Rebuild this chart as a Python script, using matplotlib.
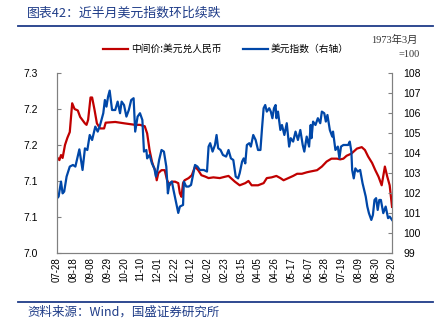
import pandas as pd
import matplotlib
matplotlib.use("Agg")
import matplotlib.pyplot as plt
import matplotlib.dates as mdates
from matplotlib.ticker import FuncFormatter, MultipleLocator

plt.rcParams['font.family'] = ['Liberation Sans', 'Noto Sans CJK SC']

# ========== DATA ==========
start = pd.Timestamp("2023-07-28")

# USD/CNY central parity, left axis (days since 2023-07-28)
cny_days = [0, 3, 5, 7, 10, 13, 16, 19, 22, 26, 29, 35, 37, 39, 42, 44, 47, 50, 54, 59,
            61, 73, 85, 98, 104, 110, 113, 116, 119, 121, 123, 125, 127, 131, 135, 138, 141,
            144, 148, 152, 154, 156, 158, 160, 165, 169, 173, 177, 181, 186, 190, 196, 204,
            211, 215, 217, 223, 229, 236, 240, 244, 252, 259, 263, 269, 275, 280, 284, 290,
            296, 301, 307, 313, 317, 326, 332, 338, 344, 351, 355, 359, 363, 369, 376, 382,
            386, 390, 395, 399, 403, 407, 411, 414, 417, 420]
cny_vals = [7.133, 7.129, 7.136, 7.132, 7.150, 7.160, 7.168, 7.208, 7.200, 7.198, 7.189,
            7.180, 7.178, 7.185, 7.216, 7.216, 7.199, 7.180, 7.173, 7.173, 7.181, 7.182,
            7.180, 7.178, 7.178, 7.176, 7.166, 7.143, 7.127, 7.120, 7.115, 7.101, 7.111,
            7.115, 7.115, 7.101, 7.094, 7.099, 7.099, 7.097, 7.083, 7.078, 7.097, 7.101,
            7.104, 7.108, 7.120, 7.115, 7.108, 7.106, 7.104, 7.105, 7.104, 7.106, 7.107,
            7.105, 7.099, 7.094, 7.097, 7.100, 7.094, 7.094, 7.097, 7.104, 7.105, 7.107,
            7.104, 7.101, 7.104, 7.107, 7.110, 7.110, 7.112, 7.113, 7.115, 7.120, 7.127,
            7.131, 7.131, 7.130, 7.131, 7.135, 7.138, 7.145, 7.147, 7.143, 7.134, 7.125,
            7.115, 7.106, 7.094, 7.120, 7.106, 7.094, 7.064]

# US dollar index, right axis
dxy_days = [0, 2, 5, 7, 9, 12, 16, 20, 23, 28, 30, 32, 35, 38, 41, 44, 48, 51, 54, 58,
            60, 62, 64, 66, 69, 73, 76, 79, 81, 84, 87, 90, 93, 96, 98, 101, 104, 107, 109,
            112, 113, 116, 119, 122, 124, 126, 128, 131, 134, 137, 139, 141, 144, 146, 149,
            152, 154, 158, 159, 162, 165, 168, 171, 173, 176, 179, 184, 188, 190, 192, 195,
            198, 200, 202, 205, 208, 212, 215, 218, 221, 224, 227, 229, 232, 234, 236, 238,
            241, 243, 246, 249, 252, 255, 257, 259, 261, 263, 266, 268, 270, 272, 274, 275,
            277, 280, 282, 285, 288, 291, 293, 296, 299, 302, 305, 308, 310, 313, 316, 318,
            319, 321, 324, 327, 330, 332, 335, 337, 339, 342, 345, 346, 349, 352, 354, 356,
            359, 362, 365, 367, 369, 370, 372, 374, 377, 380, 383, 385, 387, 389, 391, 394,
            396, 398, 400, 402, 404, 406, 409, 412, 415, 417, 420]
dxy_vals = [101.73, 101.82, 102.57, 101.98, 102.07, 102.82, 103.32, 103.40, 103.32, 104.18,
            103.65, 103.15, 104.23, 104.15, 104.90, 104.65, 105.32, 105.07, 105.40, 105.99,
            106.65, 106.32, 106.82, 107.12, 106.15, 106.15, 106.57, 105.99, 106.57, 106.40,
            105.82, 106.15, 106.65, 106.74, 105.07, 105.82, 105.99, 105.65, 104.07, 104.15,
            103.73, 103.90, 103.48, 103.23, 102.82, 103.15, 103.65, 104.15, 104.07, 103.32,
            101.98, 102.48, 102.57, 102.15, 101.57, 101.00, 101.32, 101.40, 102.57, 102.32,
            102.32, 102.40, 102.99, 103.40, 103.32, 103.15, 103.15, 103.07, 104.32, 104.49,
            104.07, 104.40, 104.90, 104.24, 104.15, 103.90, 103.82, 104.15, 103.73, 103.65,
            102.82, 102.73, 102.99, 103.57, 103.73, 103.48, 104.40, 104.49, 104.32, 104.90,
            104.65, 104.15, 104.15, 105.24, 106.24, 106.40, 106.07, 106.24, 106.07, 105.74,
            106.24, 106.40, 105.74, 106.07, 105.15, 105.40, 104.90, 105.49, 104.32, 104.74,
            104.57, 105.07, 104.65, 105.15, 104.40, 104.07, 104.82, 104.32, 105.40, 104.74,
            105.57, 105.40, 105.74, 105.49, 106.07, 105.99, 105.57, 105.90, 105.15, 104.82,
            105.07, 104.15, 104.32, 103.73, 104.32, 104.40, 104.40, 104.40, 104.57, 104.07,
            103.15, 102.73, 103.23, 103.07, 103.15, 102.49, 102.15, 101.82, 101.32, 100.99,
            100.65, 100.90, 101.65, 101.74, 101.15, 101.65, 101.65, 100.99, 101.32, 100.74,
            100.82, 100.65]

cny_dates = start + pd.to_timedelta(cny_days, unit="D")
dxy_dates = start + pd.to_timedelta(dxy_days, unit="D")
tick_dates = pd.date_range(start, periods=21, freq="21D")

RED = "#C00000"
BLUE = "#0047A8"
NAVY = "#1F3C88"
GREY = "#808080"

# ========== PLOT ==========
fig = plt.figure(figsize=(4.42, 3.35), dpi=100)
ax = fig.add_axes([0.129, 0.245, 0.758, 0.537])
ax2 = ax.twinx()

l1, = ax.plot(cny_dates, cny_vals, color=RED, lw=1.6, label="中间价:美元兑人民币")
l2, = ax2.plot(dxy_dates, dxy_vals, color=BLUE, lw=1.6, label="美元指数（右轴）")

ax.set_xlim(tick_dates[0], tick_dates[-1])
ax.set_ylim(7.0, 7.25)
ax.yaxis.set_major_locator(MultipleLocator(0.05))
ax.yaxis.set_major_formatter(FuncFormatter(lambda v, p: f"{round(v + 1e-9, 1):.1f}"))
ax2.set_ylim(99, 108)
ax2.yaxis.set_major_locator(MultipleLocator(1))

ax.set_xticks(tick_dates)
ax.xaxis.set_major_formatter(mdates.DateFormatter("%m-%d"))
ax.tick_params(axis="x", length=0, labelsize=7, rotation=90, pad=3)
ax.tick_params(axis="y", direction="in", length=3, color=GREY, labelsize=7.5, pad=14)
ax2.tick_params(axis="y", direction="in", length=3, color=GREY, labelsize=7.5, pad=8)

for a in (ax, ax2):
    a.spines["top"].set_visible(False)
    for s in ("left", "right", "bottom"):
        a.spines[s].set_color(GREY)
        a.spines[s].set_linewidth(0.8)

fig.legend(handles=[l1, l2], loc="center", bbox_to_anchor=(0.511, 0.854), ncol=2,
           frameon=False, fontsize=7, handlelength=2.6, handletextpad=0.3,
           columnspacing=2.2, prop={"family": ["Noto Sans CJK SC"], "size": 7})

fig.text(0.893, 0.880, "1973年3月", ha="center", va="center", fontsize=7.5,
         family=["Liberation Serif", "Noto Sans CJK SC"], color="#333333")
fig.text(0.950, 0.838, "=100", ha="right", va="center", fontsize=7.5,
         family=["Liberation Serif", "Noto Sans CJK SC"], color="#333333")

# header / footer
fig.text(0.062, 0.961, "图表42：近半月美元指数环比续跌", ha="left", va="center",
         fontsize=9.3, color=NAVY, family=["Noto Sans CJK SC"])
fig.add_artist(plt.Line2D([0.041, 0.98], [0.922, 0.922], color=NAVY, lw=1.3))
fig.add_artist(plt.Line2D([0.041, 0.98], [0.099, 0.099], color=NAVY, lw=1.3))
fig.text(0.062, 0.069, "资料来源：Wind，国盛证券研究所", ha="left", va="center",
         fontsize=9, color=NAVY, family=["Noto Sans CJK SC"])

fig.savefig("out.png", dpi=100)
